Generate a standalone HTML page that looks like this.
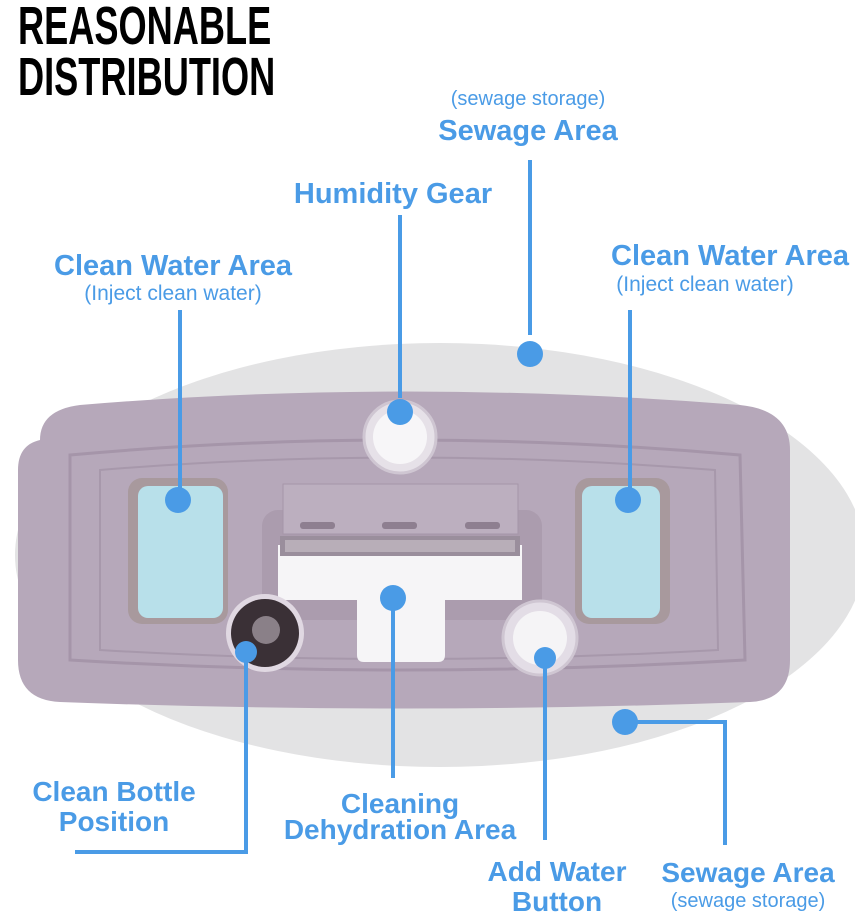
<!DOCTYPE html>
<html><head><meta charset="utf-8"><style>
html,body{margin:0;padding:0;background:#fff;}
svg{display:block}
.b{font-family:"Liberation Sans",sans-serif;font-weight:bold;fill:#4a9be6;text-anchor:middle}
.s{font-family:"Liberation Sans",sans-serif;fill:#4a9be6;text-anchor:middle}
.t{font-family:"Liberation Sans",sans-serif;font-weight:900;fill:#000}
</style></head><body>
<svg width="855" height="918" viewBox="0 0 855 918" xmlns="http://www.w3.org/2000/svg">
<rect width="855" height="918" fill="#fff"/>
<g transform="translate(18,44) scale(0.67,1)"><text class="t" x="0" y="0" font-size="54">REASONABLE</text></g>
<g transform="translate(18,95) scale(0.67,1)"><text class="t" x="0" y="0" font-size="54">DISTRIBUTION</text></g>
<ellipse cx="440" cy="555" rx="425" ry="212" fill="#e3e3e4"/>
<path d="M40,440 Q40,410 80,405 Q400,378 740,405 Q790,410 790,450 L790,660 Q790,700 750,702 Q400,715 60,702 Q18,700 18,660 L18,470 Q18,445 40,440 Z" fill="#b6a8ba"/>
<path d="M70,455 Q400,425 740,455 L745,660 Q400,680 70,660 Z" fill="none" stroke="#a595a9" stroke-width="3"/>
<path d="M100,470 Q400,445 715,470 L718,650 Q400,668 100,650 Z" fill="none" stroke="#a798ab" stroke-width="2"/>
<rect x="128" y="478" width="100" height="146" rx="14" fill="#a8999d"/>
<rect x="138" y="486" width="85" height="132" rx="10" fill="#b8e0ea"/>
<rect x="575" y="478" width="95" height="146" rx="14" fill="#a8999d"/>
<rect x="582" y="486" width="78" height="132" rx="10" fill="#b8e0ea"/>
<rect x="262" y="510" width="280" height="110" rx="16" fill="#ab9cae"/>
<rect x="283" y="484" width="235" height="50" fill="#bcafbf" stroke="#a596a8"/>
<rect x="300" y="522" width="35" height="7" rx="3" fill="#8e7f90"/>
<rect x="382" y="522" width="35" height="7" rx="3" fill="#8e7f90"/>
<rect x="465" y="522" width="35" height="7" rx="3" fill="#8e7f90"/>
<path d="M278,545 L522,545 L522,600 L445,600 L445,655 Q445,662 438,662 L364,662 Q357,662 357,655 L357,600 L278,600 Z" fill="#f6f5f7"/>
<rect x="280" y="536" width="240" height="20" fill="#9a8e9c"/>
<rect x="285" y="540" width="230" height="12" fill="#b8aeb8"/>
<circle cx="400" cy="437" r="36" fill="#e6e1e8" stroke="#cfc6d2" stroke-width="3"/>
<circle cx="400" cy="437" r="27" fill="#f7f6f8"/>
<circle cx="265" cy="633" r="39" fill="#e0d8e2"/>
<circle cx="265" cy="633" r="34" fill="#3a3036"/>
<circle cx="266" cy="630" r="14" fill="#8a8088"/>
<circle cx="540" cy="638" r="37" fill="#e3dde6" stroke="#cfc6d2" stroke-width="3"/>
<circle cx="540" cy="638" r="27" fill="#f5f4f6"/>
<g stroke="#4a9be6" stroke-width="4" fill="none">
<path d="M530,160 V335"/><path d="M400,215 V398"/><path d="M180,310 V490"/><path d="M630,310 V490"/>
<path d="M393,598 V778"/><path d="M246,652 V852 H75"/><path d="M545,658 V840"/><path d="M625,722 H725 V845"/>
</g>
<g fill="#4a9be6">
<circle cx="530" cy="354" r="13"/><circle cx="400" cy="412" r="13"/><circle cx="178" cy="500" r="13"/><circle cx="628" cy="500" r="13"/>
<circle cx="393" cy="598" r="13"/><circle cx="246" cy="652" r="11"/><circle cx="545" cy="658" r="11"/><circle cx="625" cy="722" r="13"/>
</g>
<text class="s" x="528" y="105" font-size="20">(sewage storage)</text>
<text class="b" x="528" y="140" font-size="29">Sewage Area</text>
<text class="b" x="393" y="203" font-size="29">Humidity Gear</text>
<text class="b" x="173" y="275" font-size="29">Clean Water Area</text>
<text class="s" x="173" y="300" font-size="21">(Inject clean water)</text>
<text class="b" x="730" y="265" font-size="29">Clean Water Area</text>
<text class="s" x="705" y="291" font-size="21">(Inject clean water)</text>
<text class="b" x="114" y="801" font-size="28">Clean Bottle</text>
<text class="b" x="114" y="831" font-size="28">Position</text>
<text class="b" x="400" y="813" font-size="28">Cleaning</text>
<text class="b" x="400" y="839" font-size="28">Dehydration Area</text>
<text class="b" x="557" y="881" font-size="28">Add Water</text>
<text class="b" x="557" y="911" font-size="28">Button</text>
<text class="b" x="748" y="882" font-size="28">Sewage Area</text>
<text class="s" x="748" y="907" font-size="20">(sewage storage)</text>
</svg>
</body></html>
